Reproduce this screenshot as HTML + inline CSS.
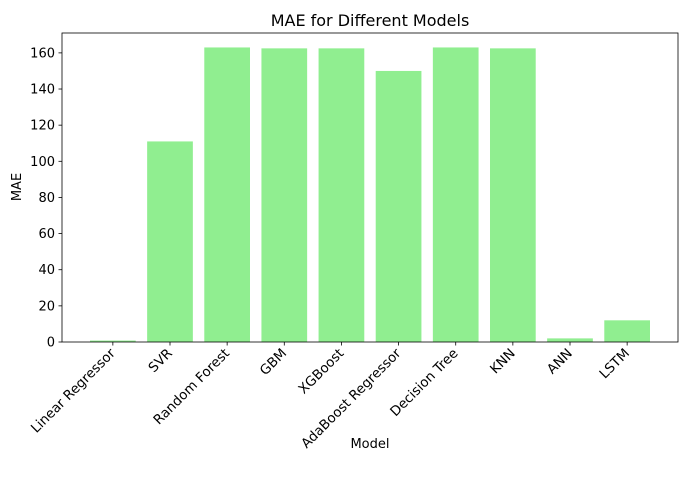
<!DOCTYPE html>
<html><head><meta charset="utf-8"><style>
body{margin:0;background:#fff;}
svg text{font-family:"DejaVu Sans","Liberation Sans",sans-serif;fill:#000;}
</style></head><body>
<svg id="chart" width="685" height="489">
<text x="370" y="26" font-size="16" text-anchor="middle">MAE for Different Models</text>
<text x="370" y="448" font-size="13" text-anchor="middle">Model</text>
<text transform="translate(21,187) rotate(-90)" font-size="13" text-anchor="middle">MAE</text>
<g id="bars"></g><g id="axes"></g>
</svg>
<script>
const categories=["Linear Regressor","SVR","Random Forest","GBM","XGBoost","AdaBoost Regressor","Decision Tree","KNN","ANN","LSTM"];
const maeValues=[0.8,111,163,162.5,162.5,150,163,162.5,2,12];
const yTicks=[0,20,40,60,80,100,120,140,160];
const L=62,R=678,T=33,B=342;
const yMax=171;
const ns="http://www.w3.org/2000/svg";
function y(v){return B-(v/yMax)*(B-T);}
const x0=-0.89,x1=9.89;
function x(i){return L+(i-x0)/(x1-x0)*(R-L);}
const bw=0.8*(R-L)/(x1-x0);
const bars=document.getElementById('bars'),axes=document.getElementById('axes');
function mk(t,a,p){const e=document.createElementNS(ns,t);for(const k in a)e.setAttribute(k,a[k]);p.appendChild(e);return e;}
categories.forEach((c,i)=>{
 const r=mk('rect',{x:x(i)-bw/2,y:y(maeValues[i]),width:bw,height:B-y(maeValues[i]),fill:'#90ee90'},bars);
 
 
 mk('line',{x1:x(i),x2:x(i),y1:B,y2:B+3.5,stroke:'#000','stroke-width':0.8},axes);
 const t=mk('text',{transform:`translate(${x(i)+3},${B+12}) rotate(-45)`,'font-size':13.4,'text-anchor':'end'},axes);
 t.textContent=c;
 
 
});
yTicks.forEach(v=>{
 mk('line',{x1:L-3.5,x2:L,y1:y(v),y2:y(v),stroke:'#000','stroke-width':0.8},axes);
 const t=mk('text',{x:L-7,y:y(v)+4.5,'font-size':13,'text-anchor':'end'},axes);
 t.textContent=v;
 
 
});
const f=mk('rect',{x:L,y:T,width:R-L,height:B-T,fill:'none',stroke:'#000','stroke-width':0.8},axes);


</script>
</body></html>
